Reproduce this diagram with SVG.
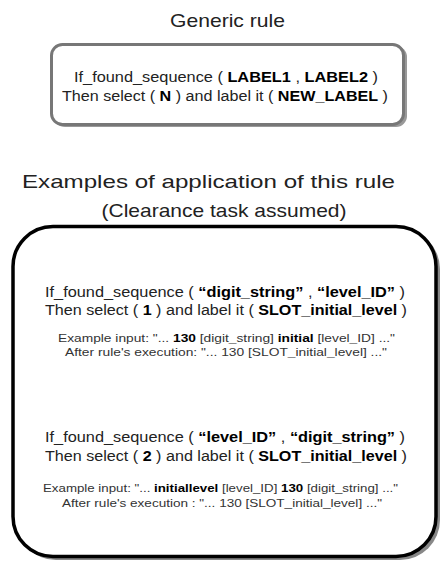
<svg xmlns="http://www.w3.org/2000/svg" width="440" height="563" viewBox="0 0 440 563">
<style>
text{font-family:"Liberation Sans",Arial,sans-serif;fill:#222;text-anchor:middle}
.b{font-weight:bold;fill:#000}
.t{font-size:19px}
.m{font-size:15.5px}
.s{font-size:11.5px;fill:#333}
</style>
<rect width="440" height="563" fill="#fff"/>
<g id="title1"><text class="t" x="227.5" y="27" textLength="115" lengthAdjust="spacingAndGlyphs">Generic rule</text></g>
<g id="generic">
<rect x="54" y="46" width="353" height="81" rx="11" fill="#999"/>
<rect x="51.5" y="44.5" width="352" height="80" rx="11" fill="#fff" stroke="#777" stroke-width="3"/>
<text class="m" x="226" y="82" textLength="304" lengthAdjust="spacingAndGlyphs">If_found_sequence ( <tspan class="b">LABEL1</tspan> , <tspan class="b">LABEL2</tspan> )</text>
<text class="m" x="225" y="101" textLength="326" lengthAdjust="spacingAndGlyphs">Then select ( <tspan class="b">N</tspan> ) and label it ( <tspan class="b">NEW_LABEL</tspan> )</text>
</g>
<g id="title2">
<text class="t" x="208.5" y="188" textLength="373" lengthAdjust="spacingAndGlyphs">Examples of application of this rule</text>
<text class="t" x="224" y="217" textLength="245" lengthAdjust="spacingAndGlyphs">(Clearance task assumed)</text>
</g>
<g id="examples">
<rect x="16" y="229" width="424" height="331" rx="40" fill="#888"/>
<rect x="13" y="226.5" width="423" height="330" rx="40" fill="#fff" stroke="#000" stroke-width="3.5"/>
<text class="m" x="225" y="297" textLength="360" lengthAdjust="spacingAndGlyphs">If_found_sequence ( <tspan class="b">“digit_string”</tspan> , <tspan class="b">“level_ID”</tspan> )</text>
<text class="m" x="226" y="315" textLength="362" lengthAdjust="spacingAndGlyphs">Then select ( <tspan class="b">1</tspan> ) and label it ( <tspan class="b">SLOT_initial_level</tspan> )</text>
<text class="s" x="226.5" y="342" textLength="337" lengthAdjust="spacingAndGlyphs">Example input: "... <tspan class="b">130</tspan> [digit_string] <tspan class="b">initial</tspan> [level_ID] ..."</text>
<text class="s" x="226" y="356" textLength="322" lengthAdjust="spacingAndGlyphs">After rule's execution: "... 130 [SLOT_initial_level] ..."</text>
<text class="m" x="225" y="442" textLength="360" lengthAdjust="spacingAndGlyphs">If_found_sequence ( <tspan class="b">“level_ID”</tspan> , <tspan class="b">“digit_string”</tspan> )</text>
<text class="m" x="226" y="461" textLength="362" lengthAdjust="spacingAndGlyphs">Then select ( <tspan class="b">2</tspan> ) and label it ( <tspan class="b">SLOT_initial_level</tspan> )</text>
<text class="s" x="220.5" y="492" textLength="355" lengthAdjust="spacingAndGlyphs">Example input: "... <tspan class="b">initiallevel</tspan> [level_ID] <tspan class="b">130</tspan> [digit_string] ..."</text>
<text class="s" x="222" y="507" textLength="320" lengthAdjust="spacingAndGlyphs">After rule's execution : "... 130 [SLOT_initial_level] ..."</text>
</g>
</svg>
